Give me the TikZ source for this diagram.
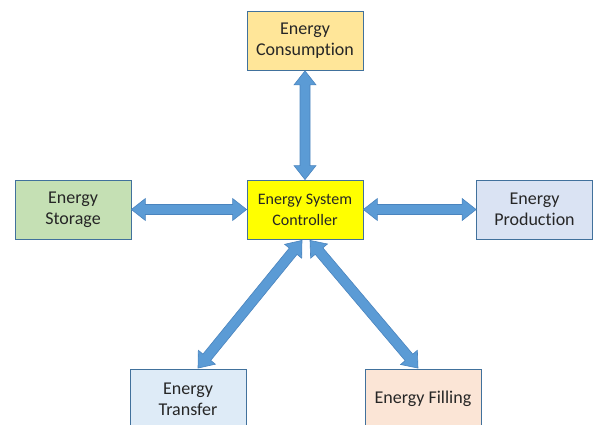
\documentclass[tikz,border=0pt]{standalone}
\usepackage{fontspec}
\setmainfont[Ligatures=NoCommon]{Carlito}
\usepackage{xcolor}
\usetikzlibrary{calc}
\definecolor{edgeblue}{HTML}{41719C}
\definecolor{arrblue}{HTML}{5B9BD5}
\definecolor{arredge}{HTML}{4A84BE}
\definecolor{consfill}{HTML}{FFE699}
\definecolor{ctlfill}{HTML}{FFFF00}
\definecolor{stofill}{HTML}{C5E0B4}
\definecolor{prodfill}{HTML}{DAE3F3}
\definecolor{trnfill}{HTML}{DEEBF7}
\definecolor{filfill}{HTML}{FBE5D6}

% block double arrow between two points
\newcommand{\blockarrow}[2]{%
  \path (#1) coordinate (s) (#2) coordinate (e);
  \coordinate (hs) at ($(s)!14pt!(e)$);
  \coordinate (he) at ($(e)!14pt!(s)$);
  \filldraw[fill=arrblue,draw=arredge,line width=0.6pt,line join=miter]
    (s) -- ($(hs)!11pt!90:(e)$) -- ($(hs)!5pt!90:(e)$)
    -- ($(he)!5pt!-90:(s)$) -- ($(he)!11pt!-90:(s)$) -- (e)
    -- ($(he)!11pt!90:(s)$) -- ($(he)!5pt!90:(s)$)
    -- ($(hs)!5pt!-90:(e)$) -- ($(hs)!11pt!-90:(e)$) -- cycle;
}

\begin{document}
\begin{tikzpicture}[x=1pt,y=-1pt,
  box/.style={draw=edgeblue,line width=0.8pt,minimum width=116pt,minimum height=59pt,
              inner sep=2pt,align=center,text=black!85,
              font=\fontsize{18}{21}\selectfont},
  ctlbox/.style={box,font=\fontsize{16}{21}\selectfont}
]
\useasboundingbox (0,0) rectangle (597,425);
\clip (0,0) rectangle (597,425);

\node[box,fill=consfill]   (cons) at (305,41)    {Energy\\Consumption};
\node[ctlbox,fill=ctlfill] (ctl)  at (305,209.5) {Energy System\\Controller};
\node[box,fill=stofill]    (sto)  at (73,209.5)  {Energy\\Storage};
\node[box,fill=prodfill]   (prod) at (534.5,209.5) {Energy\\Production};
\node[box,fill=trnfill]    (trn)  at (188,399)   {Energy\\Transfer};
\node[box,fill=filfill]    (fil)  at (423,399)   {Energy Filling};

% connectors
\blockarrow{cons.south}{ctl.north}
\blockarrow{sto.east}{ctl.west}
\blockarrow{ctl.east}{prod.west}
\blockarrow{$(ctl.south)+(-3,1)$}{$(trn.north)+(10,-1)$}
\blockarrow{$(ctl.south)+(5,1)$}{$(fil.north)+(-5,-1)$}
\end{tikzpicture}
\end{document}
